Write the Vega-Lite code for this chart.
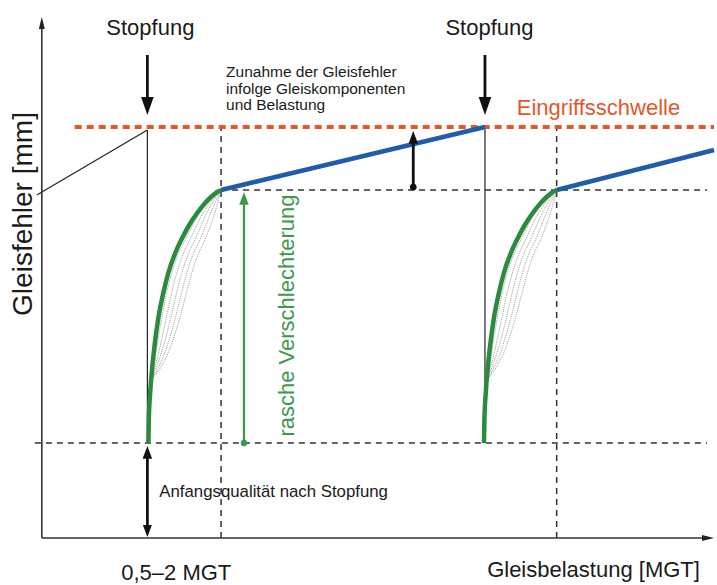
{
  "$schema": "https://vega.github.io/schema/vega-lite/v6.json",
  "width": 717,
  "height": 585,
  "autosize": {"type": "fit", "contains": "padding"},
  "padding": 0,
  "background": "white",
  "config": {"view": {"stroke": null}, "font": "Liberation Sans"},
  "datasets": {
    "axes": [
      {"x": 0, "y": 0, "x2": 0, "y2": 5.11},
      {"x": 0, "y": 0, "x2": 6.65, "y2": 0}
    ],
    "axisUp": [{"x": 0, "y": 5.21}],
    "axisRight": [{"x": 6.75, "y": 0}],
    "threshold": [{"x": 0.33, "y": 4.11, "x2": 6.75, "y2": 4.11}],
    "dashed": [
      {"x": 1.80, "y": 0, "x2": 1.80, "y2": 4.11},
      {"x": 5.17, "y": 0, "x2": 5.17, "y2": 4.11},
      {"x": 1.80, "y": 3.48, "x2": 6.68, "y2": 3.48},
      {"x": -0.07, "y": 0.95, "x2": 6.68, "y2": 0.95}
    ],
    "thin": [
      {"x": 1.06, "y": 4.08, "x2": 1.06, "y2": 0.95},
      {"x": 4.45, "y": 4.11, "x2": 4.45, "y2": 0.95},
      {"x": 1.06, "y": 4.08, "x2": -0.05, "y2": 3.43}
    ],
    "blue": [
      {"x": 1.80, "y": 3.48, "x2": 4.45, "y2": 4.11},
      {"x": 5.17, "y": 3.48, "x2": 6.75, "y2": 3.88}
    ],
    "fan": [
      {"id": "a1", "x": 1.10, "y": 1.58}, {"id": "a1", "x": 1.15, "y": 1.88}, {"id": "a1", "x": 1.20, "y": 2.18}, {"id": "a1", "x": 1.26, "y": 2.48}, {"id": "a1", "x": 1.34, "y": 2.76}, {"id": "a1", "x": 1.455, "y": 3.01}, {"id": "a1", "x": 1.59, "y": 3.26}, {"id": "a1", "x": 1.80, "y": 3.48},
      {"id": "a2", "x": 1.10, "y": 1.58}, {"id": "a2", "x": 1.18, "y": 1.88}, {"id": "a2", "x": 1.245, "y": 2.18}, {"id": "a2", "x": 1.31, "y": 2.48}, {"id": "a2", "x": 1.39, "y": 2.76}, {"id": "a2", "x": 1.50, "y": 3.01}, {"id": "a2", "x": 1.625, "y": 3.26}, {"id": "a2", "x": 1.80, "y": 3.48},
      {"id": "a3", "x": 1.10, "y": 1.58}, {"id": "a3", "x": 1.21, "y": 1.88}, {"id": "a3", "x": 1.29, "y": 2.18}, {"id": "a3", "x": 1.36, "y": 2.48}, {"id": "a3", "x": 1.44, "y": 2.76}, {"id": "a3", "x": 1.55, "y": 3.01}, {"id": "a3", "x": 1.66, "y": 3.26}, {"id": "a3", "x": 1.80, "y": 3.48},
      {"id": "a4", "x": 1.10, "y": 1.58}, {"id": "a4", "x": 1.245, "y": 1.88}, {"id": "a4", "x": 1.335, "y": 2.18}, {"id": "a4", "x": 1.41, "y": 2.48}, {"id": "a4", "x": 1.49, "y": 2.76}, {"id": "a4", "x": 1.60, "y": 3.01}, {"id": "a4", "x": 1.70, "y": 3.26}, {"id": "a4", "x": 1.80, "y": 3.48},
      {"id": "a5", "x": 1.10, "y": 1.58}, {"id": "a5", "x": 1.28, "y": 1.88}, {"id": "a5", "x": 1.38, "y": 2.18}, {"id": "a5", "x": 1.46, "y": 2.48}, {"id": "a5", "x": 1.54, "y": 2.76}, {"id": "a5", "x": 1.65, "y": 3.01}, {"id": "a5", "x": 1.74, "y": 3.26}, {"id": "a5", "x": 1.80, "y": 3.48},
      {"id": "b1", "x": 4.47, "y": 1.58}, {"id": "b1", "x": 4.52, "y": 1.88}, {"id": "b1", "x": 4.57, "y": 2.18}, {"id": "b1", "x": 4.63, "y": 2.48}, {"id": "b1", "x": 4.71, "y": 2.76}, {"id": "b1", "x": 4.825, "y": 3.01}, {"id": "b1", "x": 4.96, "y": 3.26}, {"id": "b1", "x": 5.17, "y": 3.48},
      {"id": "b2", "x": 4.47, "y": 1.58}, {"id": "b2", "x": 4.55, "y": 1.88}, {"id": "b2", "x": 4.615, "y": 2.18}, {"id": "b2", "x": 4.68, "y": 2.48}, {"id": "b2", "x": 4.76, "y": 2.76}, {"id": "b2", "x": 4.87, "y": 3.01}, {"id": "b2", "x": 4.995, "y": 3.26}, {"id": "b2", "x": 5.17, "y": 3.48},
      {"id": "b3", "x": 4.47, "y": 1.58}, {"id": "b3", "x": 4.58, "y": 1.88}, {"id": "b3", "x": 4.66, "y": 2.18}, {"id": "b3", "x": 4.73, "y": 2.48}, {"id": "b3", "x": 4.81, "y": 2.76}, {"id": "b3", "x": 4.92, "y": 3.01}, {"id": "b3", "x": 5.03, "y": 3.26}, {"id": "b3", "x": 5.17, "y": 3.48},
      {"id": "b4", "x": 4.47, "y": 1.58}, {"id": "b4", "x": 4.615, "y": 1.88}, {"id": "b4", "x": 4.705, "y": 2.18}, {"id": "b4", "x": 4.78, "y": 2.48}, {"id": "b4", "x": 4.86, "y": 2.76}, {"id": "b4", "x": 4.97, "y": 3.01}, {"id": "b4", "x": 5.07, "y": 3.26}, {"id": "b4", "x": 5.17, "y": 3.48},
      {"id": "b5", "x": 4.47, "y": 1.58}, {"id": "b5", "x": 4.65, "y": 1.88}, {"id": "b5", "x": 4.75, "y": 2.18}, {"id": "b5", "x": 4.83, "y": 2.48}, {"id": "b5", "x": 4.91, "y": 2.76}, {"id": "b5", "x": 5.02, "y": 3.01}, {"id": "b5", "x": 5.11, "y": 3.26}, {"id": "b5", "x": 5.17, "y": 3.48}
    ],
    "green": [
      {"id": "g1", "x": 1.07, "y": 0.95}, {"id": "g1", "x": 1.075, "y": 1.20}, {"id": "g1", "x": 1.088, "y": 1.45}, {"id": "g1", "x": 1.108, "y": 1.70}, {"id": "g1", "x": 1.135, "y": 1.95}, {"id": "g1", "x": 1.17, "y": 2.20}, {"id": "g1", "x": 1.22, "y": 2.45}, {"id": "g1", "x": 1.27, "y": 2.65}, {"id": "g1", "x": 1.34, "y": 2.85}, {"id": "g1", "x": 1.41, "y": 3.00}, {"id": "g1", "x": 1.48, "y": 3.13}, {"id": "g1", "x": 1.56, "y": 3.25}, {"id": "g1", "x": 1.64, "y": 3.35}, {"id": "g1", "x": 1.71, "y": 3.42}, {"id": "g1", "x": 1.76, "y": 3.46}, {"id": "g1", "x": 1.80, "y": 3.48},
      {"id": "g2", "x": 4.44, "y": 0.95}, {"id": "g2", "x": 4.445, "y": 1.20}, {"id": "g2", "x": 4.458, "y": 1.45}, {"id": "g2", "x": 4.478, "y": 1.70}, {"id": "g2", "x": 4.505, "y": 1.95}, {"id": "g2", "x": 4.54, "y": 2.20}, {"id": "g2", "x": 4.59, "y": 2.45}, {"id": "g2", "x": 4.64, "y": 2.65}, {"id": "g2", "x": 4.71, "y": 2.85}, {"id": "g2", "x": 4.78, "y": 3.00}, {"id": "g2", "x": 4.85, "y": 3.13}, {"id": "g2", "x": 4.93, "y": 3.25}, {"id": "g2", "x": 5.01, "y": 3.35}, {"id": "g2", "x": 5.08, "y": 3.42}, {"id": "g2", "x": 5.13, "y": 3.46}, {"id": "g2", "x": 5.17, "y": 3.48}
    ],
    "shafts": [
      {"x": 1.06, "y": 4.83, "x2": 1.06, "y2": 4.35},
      {"x": 4.45, "y": 4.83, "x2": 4.45, "y2": 4.35},
      {"x": 1.06, "y": 0.82, "x2": 1.06, "y2": 0.11},
      {"x": 3.73, "y": 3.51, "x2": 3.73, "y2": 3.95}
    ],
    "stopHeads": [{"x": 1.06, "y": 4.23}, {"x": 4.45, "y": 4.23}],
    "smallDown": [{"x": 1.06, "y": 0.01}],
    "smallUp": [{"x": 1.06, "y": 0.92}, {"x": 3.73, "y": 4.07}],
    "blackDot": [{"x": 3.73, "y": 3.51}],
    "greenShaft": [{"x": 2.03, "y": 0.95, "x2": 2.03, "y2": 3.35}],
    "greenHead": [{"x": 2.03, "y": 3.46}],
    "greenDot": [{"x": 2.03, "y": 0.95}],
    "bigText": [
      {"x": 1.09, "y": 5.03, "t": "Stopfung"},
      {"x": 4.495, "y": 5.03, "t": "Stopfung"},
      {"x": 1.35, "y": -0.42, "t": "0,5–2 MGT"},
      {"x": 5.54, "y": -0.39, "t": "Gleisbelastung [MGT]"}
    ],
    "orangeText": [{"x": 5.59, "y": 4.23, "t": "Eingriffsschwelle"}],
    "smallText": [
      {"x": 1.85, "y": 4.61, "t": "Zunahme der Gleisfehler"},
      {"x": 1.85, "y": 4.445, "t": "infolge Gleiskomponenten"},
      {"x": 1.85, "y": 4.28, "t": "und Belastung"}
    ],
    "initText": [{"x": 1.18, "y": 0.41, "t": "Anfangsqualität nach Stopfung"}],
    "yTitle": [{"x": -0.10, "y": 3.24, "t": "Gleisfehler [mm]"}],
    "greenText": [{"x": 2.53, "y": 2.225, "t": "rasche Verschlechterung"}]
  },
  "encoding": {
    "x": {"field": "x", "type": "quantitative", "scale": {"domain": [-0.42, 6.75], "nice": false, "zero": false}, "axis": null},
    "y": {"field": "y", "type": "quantitative", "scale": {"domain": [-0.47, 5.38], "nice": false, "zero": false}, "axis": null}
  },
  "layer": [
    {"data": {"name": "fan"}, "mark": {"type": "line", "color": "#9c9c9c", "strokeWidth": 1, "strokeDash": [1, 1], "interpolate": "monotone"}, "encoding": {"detail": {"field": "id"}}},
    {"data": {"name": "dashed"}, "mark": {"type": "rule", "color": "#333333", "strokeWidth": 1.5, "strokeDash": [6, 5]}, "encoding": {"x2": {"field": "x2"}, "y2": {"field": "y2"}}},
    {"data": {"name": "thin"}, "mark": {"type": "rule", "color": "#222222", "strokeWidth": 1.2}, "encoding": {"x2": {"field": "x2"}, "y2": {"field": "y2"}}},
    {"data": {"name": "axes"}, "mark": {"type": "rule", "color": "#333333", "strokeWidth": 1.6}, "encoding": {"x2": {"field": "x2"}, "y2": {"field": "y2"}}},
    {"data": {"name": "axisUp"}, "mark": {"type": "point", "shape": "M-0.5,2L0.5,2L0,0Z", "size": 144, "filled": true, "color": "#222222", "opacity": 1, "strokeWidth": 0}},
    {"data": {"name": "axisRight"}, "mark": {"type": "point", "shape": "M-2,-0.5L-2,0.5L0,0Z", "size": 144, "filled": true, "color": "#222222", "opacity": 1, "strokeWidth": 0}},
    {"data": {"name": "threshold"}, "mark": {"type": "rule", "color": "#e2572b", "strokeWidth": 4, "strokeDash": [7, 5]}, "encoding": {"x2": {"field": "x2"}, "y2": {"field": "y2"}}},
    {"data": {"name": "blue"}, "mark": {"type": "rule", "color": "#1f5cab", "strokeWidth": 4.5}, "encoding": {"x2": {"field": "x2"}, "y2": {"field": "y2"}}},
    {"data": {"name": "green"}, "mark": {"type": "line", "color": "#2b8a3e", "strokeWidth": 4.5, "interpolate": "monotone"}, "encoding": {"detail": {"field": "id"}}},
    {"data": {"name": "shafts"}, "mark": {"type": "rule", "color": "#111111", "strokeWidth": 2.8}, "encoding": {"x2": {"field": "x2"}, "y2": {"field": "y2"}}},
    {"data": {"name": "stopHeads"}, "mark": {"type": "point", "shape": "M-0.7,-2L0.7,-2L0,0Z", "size": 324, "filled": true, "color": "#111111", "opacity": 1, "strokeWidth": 0}},
    {"data": {"name": "smallDown"}, "mark": {"type": "point", "shape": "M-0.75,-2L0.75,-2L0,0Z", "size": 144, "filled": true, "color": "#111111", "opacity": 1, "strokeWidth": 0}},
    {"data": {"name": "smallUp"}, "mark": {"type": "point", "shape": "M-0.75,2L0.75,2L0,0Z", "size": 160, "filled": true, "color": "#111111", "opacity": 1, "strokeWidth": 0}},
    {"data": {"name": "blackDot"}, "mark": {"type": "circle", "size": 45, "color": "#111111", "opacity": 1}},
    {"data": {"name": "greenShaft"}, "mark": {"type": "rule", "color": "#3a9a4a", "strokeWidth": 2.2}, "encoding": {"x2": {"field": "x2"}, "y2": {"field": "y2"}}},
    {"data": {"name": "greenHead"}, "mark": {"type": "point", "shape": "M-0.75,2L0.75,2L0,0Z", "size": 160, "filled": true, "color": "#3a9a4a", "opacity": 1, "strokeWidth": 0}},
    {"data": {"name": "greenDot"}, "mark": {"type": "circle", "size": 40, "color": "#3a9a4a", "opacity": 1}},
    {"data": {"name": "bigText"}, "mark": {"type": "text", "fontSize": 22, "color": "#1a1a1a", "align": "center", "baseline": "alphabetic"}, "encoding": {"text": {"field": "t"}}},
    {"data": {"name": "orangeText"}, "mark": {"type": "text", "fontSize": 22, "color": "#e2572b", "align": "center", "baseline": "alphabetic"}, "encoding": {"text": {"field": "t"}}},
    {"data": {"name": "smallText"}, "mark": {"type": "text", "fontSize": 15.5, "color": "#1a1a1a", "align": "left", "baseline": "alphabetic"}, "encoding": {"text": {"field": "t"}}},
    {"data": {"name": "initText"}, "mark": {"type": "text", "fontSize": 16.8, "color": "#1a1a1a", "align": "left", "baseline": "alphabetic"}, "encoding": {"text": {"field": "t"}}},
    {"data": {"name": "yTitle"}, "mark": {"type": "text", "fontSize": 28, "color": "#1a1a1a", "align": "center", "baseline": "alphabetic", "angle": 270}, "encoding": {"text": {"field": "t"}}},
    {"data": {"name": "greenText"}, "mark": {"type": "text", "fontSize": 22, "color": "#3a9a4a", "align": "center", "baseline": "alphabetic", "angle": 270}, "encoding": {"text": {"field": "t"}}}
  ]
}
